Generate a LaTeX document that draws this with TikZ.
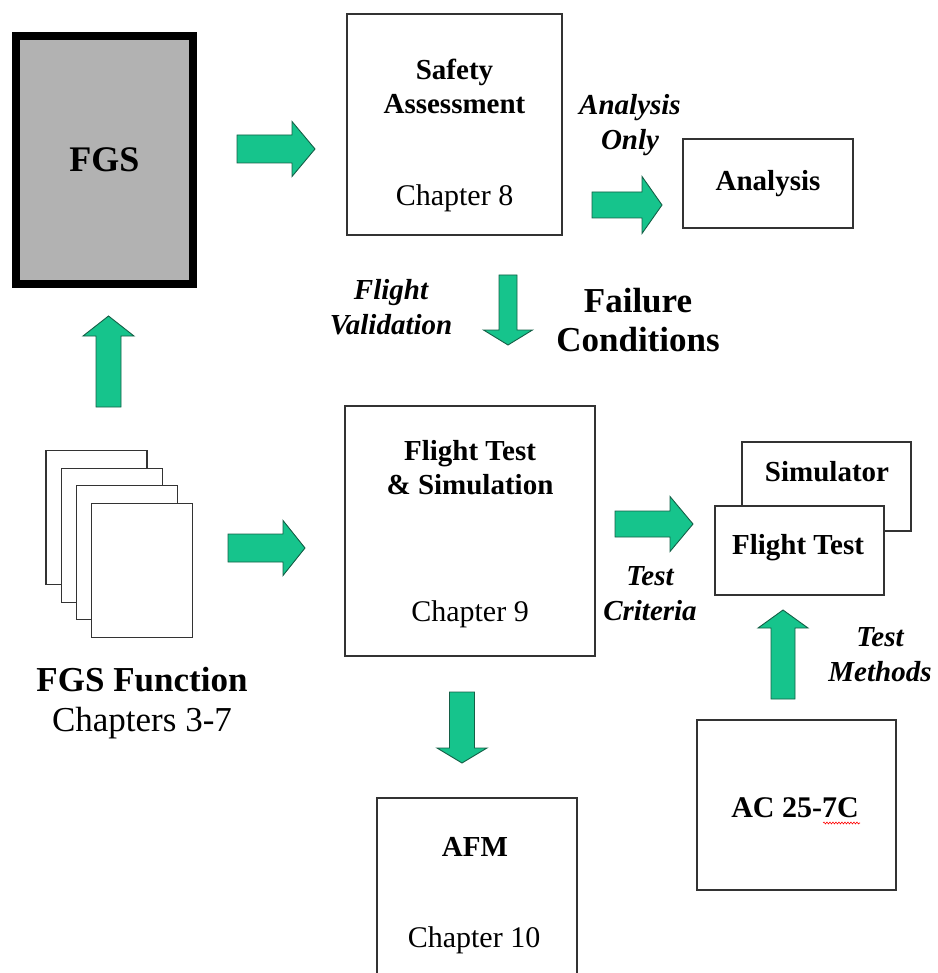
\documentclass[tikz,border=0pt]{standalone}
\usepackage{fontspec}
\setmainfont{Liberation Serif}
\usepackage{xcolor}
\usepackage{tikz}
\usetikzlibrary{decorations.pathmorphing}

\definecolor{arrowgreen}{RGB}{22,196,140}
\definecolor{arrowedge}{RGB}{20,95,70}
\definecolor{fgsgray}{RGB}{178,178,178}

\begin{document}
\begin{tikzpicture}[
  x=1pt, y=-1pt,
  box/.style={draw=black!80, line width=1.3pt, fill=white, inner sep=0pt},
  page/.style={box, line width=1.1pt, minimum width=101pt, minimum height=134pt},
  head/.style={font=\fontsize{29}{34}\selectfont\bfseries, align=center},
  chap/.style={font=\fontsize{30}{34}\selectfont, align=center},
  note/.style={font=\fontsize{29}{35}\selectfont\bfseries\itshape, align=center},
  big/.style={font=\fontsize{35}{39}\selectfont\bfseries, align=center},
  arrowbody/.style={fill=arrowgreen, draw=arrowedge, line width=0.9pt, line join=miter},
  pics/blockarrow/.style n args={4}{code={
    \draw[arrowbody] (0,-#2) -- ({#1-#4},-#2) -- ({#1-#4},-#3) -- (#1,0)
      -- ({#1-#4},#3) -- ({#1-#4},#2) -- (0,#2) -- cycle;}},
]
\clip (0,0) rectangle (937,973);

% boxes
\node[box, draw=black, line width=8pt, fill=fgsgray, minimum width=177pt, minimum height=248pt] (fgs) at (104.5,160) {};
\node[box, minimum width=215pt, minimum height=221pt] (safety) at (454.5,124.5) {};
\node[box, minimum width=170pt, minimum height=89pt] (analysis) at (768,183.5) {};
\node[box, minimum width=250pt, minimum height=250pt] (fts) at (470,531) {};
\node[box, minimum width=169pt, minimum height=89pt] (sim) at (826.5,486.5) {};
\node[box, minimum width=169pt, minimum height=89pt] (ft) at (799.5,550.5) {};
\node[box, minimum width=199pt, minimum height=170pt] (ac) at (796.5,805) {};
\node[box, minimum width=200pt, minimum height=202pt] (afm) at (477,899) {};
\foreach \i in {0,...,3}
  \node[page] (pg\i) at ({96.5+15.3*\i},{517.5+17.7*\i}) {};

% texts in boxes
\node[font=\fontsize{36}{40}\selectfont\bfseries] (fgslbl) at (fgs) {FGS};
\node[head] (safetylbl) at (454.5,86) {Safety\\Assessment};
\node[chap] (safetych) at (454.5,198) {Chapter 8};
\node[head] (analysislbl) at (analysis) {Analysis};
\node[head] (ftslbl) at (470,468) {Flight Test\\\& Simulation};
\node[chap] (ftsch) at (470,614) {Chapter 9};
\node[head] (simlbl) at (827,472) {Simulator};
\node[head] (ftlbl) at (798,548) {Flight Test};
\node[head, font=\fontsize{30}{34}\selectfont\bfseries] (aclbl) at (795,808) {AC 25-7C};
\node[head] (afmlbl) at (475,847) {AFM};
\node[chap] (afmch) at (474,940) {Chapter 10};

% free labels
\node[note] (only) at (630,125) {Analysis\\Only};
\node[note] (valid) at (391,307) {Flight\\Validation};
\node[big] (fail) at (638,320) {Failure\\Conditions};
\node[note] (crit) at (650,594) {Test\\Criteria};
\node[note] (meth) at (880,655) {Test\\Methods};
\node[big, font=\fontsize{35}{40}\selectfont] (func) at (142,703) {\textbf{FGS Function}\\Chapters 3-7};

% spell-check mark
\draw[red, line width=0.6pt, decorate, decoration={snake, amplitude=0.9pt, segment length=3pt}] (823,823) -- (860,823);

% block arrows
\pic at (237,149) {blockarrow={78}{14}{27.5}{23}};
\pic at (592,205) {blockarrow={70}{13}{28.5}{20}};
\pic[rotate=-90] at (508,275) {blockarrow={70}{9}{24.5}{15}};
\pic[rotate=90] at (108.5,407) {blockarrow={91}{12.5}{25.5}{20}};
\pic at (228,548) {blockarrow={77}{14}{27.5}{22}};
\pic at (615,524) {blockarrow={78}{13}{27.5}{23}};
\pic[rotate=-90] at (462,692) {blockarrow={71}{12.5}{25}{15}};
\pic[rotate=90] at (783,699) {blockarrow={89}{12}{25}{18}};
\end{tikzpicture}
\end{document}
